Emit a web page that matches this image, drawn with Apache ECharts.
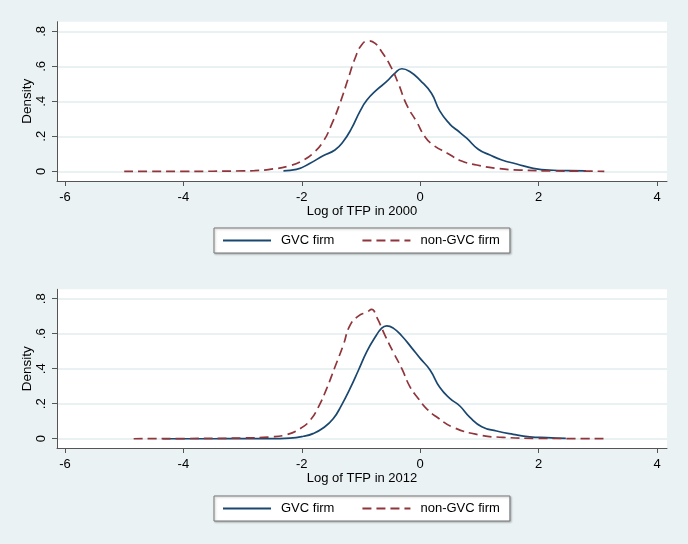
<!DOCTYPE html>
<html>
<head>
<meta charset="utf-8">
<script src="https://cdn.jsdelivr.net/npm/echarts@6/dist/echarts.min.js"></script>
<style>
html,body{margin:0;padding:0;background:#eaf2f3;}
#chart{width:688px;height:544px;}
</style>
</head>
<body>
<div id="chart"></div>
<script>
// ---- data ----
const seriesNames = ['GVC firm', 'non-GVC firm'];
const xTicks = [-6, -4, -2, 0, 2, 4];
const yTicks = [0, 0.2, 0.4, 0.6, 0.8];
const xTitles = ['Log of TFP in 2000', 'Log of TFP in 2012'];

// 2000 panel
const gvc2000X = [-2.31,-2.09,-1.86,-1.64,-1.44,-1.30,-1.16,-1.02,-0.90,-0.735,-0.57,-0.43,-0.31,-0.17,0.0,0.19,0.33,0.5,0.62,0.785,0.98,1.18,1.38,1.63,1.91,2.25,2.5,2.8];
const gvc2000Y = [0.003,0.011,0.046,0.089,0.122,0.17,0.245,0.341,0.407,0.465,0.512,0.56,0.586,0.569,0.52,0.446,0.345,0.27,0.236,0.189,0.126,0.093,0.065,0.042,0.017,0.006,0.004,0.002];
const non2000X = [-5.0,-4.0,-3.0,-2.8,-2.54,-2.20,-1.97,-1.81,-1.64,-1.50,-1.355,-1.215,-1.10,-0.99,-0.877,-0.76,-0.65,-0.51,-0.37,-0.228,-0.06,0.08,0.22,0.45,0.70,0.955,1.29,1.69,2.25,2.7,3.11];
const non2000Y = [0.0,0.0,0.002,0.004,0.011,0.032,0.065,0.103,0.17,0.265,0.389,0.531,0.646,0.722,0.746,0.731,0.683,0.607,0.503,0.379,0.283,0.198,0.15,0.105,0.059,0.036,0.017,0.007,0.002,0.001,0.0];

// 2012 panel
const gvc2012X = [-4.35,-3.5,-3.0,-2.54,-2.2,-1.97,-1.81,-1.64,-1.47,-1.33,-1.186,-1.045,-0.90,-0.76,-0.65,-0.566,-0.455,-0.31,-0.14,0.0,0.166,0.33,0.50,0.67,0.84,1.04,1.29,1.57,1.85,2.14,2.46];
const gvc2012Y = [0.0,0.0,0.001,0.001,0.004,0.014,0.029,0.061,0.114,0.191,0.286,0.39,0.499,0.581,0.632,0.645,0.632,0.587,0.518,0.459,0.393,0.294,0.231,0.187,0.122,0.069,0.044,0.025,0.011,0.006,0.002];
const non2012X = [-4.84,-4.0,-3.0,-2.54,-2.26,-2.03,-1.86,-1.72,-1.58,-1.44,-1.30,-1.186,-1.045,-0.90,-0.82,-0.735,-0.595,-0.455,-0.31,-0.17,-0.03,0.11,0.28,0.56,1.01,1.40,1.97,2.5,3.11];
const non2012Y = [0.0,0.001,0.004,0.01,0.023,0.057,0.105,0.181,0.286,0.41,0.534,0.648,0.701,0.724,0.739,0.695,0.591,0.495,0.40,0.295,0.229,0.171,0.124,0.065,0.021,0.008,0.002,0.001,0.0];

// ---- styling ----
const FONT = '"Liberation Sans", Arial, sans-serif';
const NAVY = '#1a476f';
const MAROON = '#90353b';
const AXIS = '#555';
const GRIDLINE = '#e3ecef';

function zip(xs, ys) { return xs.map((x, i) => [x, ys[i]]); }

const grids = [
  { left: 57, right: 21, top: 21.7, height: 159.3 },
  { left: 57, right: 21, top: 289.3, height: 158.7 }
];
const yRanges = [[-0.0554, 0.855], [-0.053, 0.854]];
const legendTops = [228, 496];

const option = {
  backgroundColor: '#eaf2f3',
  animation: false,
  textStyle: { fontFamily: FONT },
  grid: grids.map(g => Object.assign({ show: true, backgroundColor: '#ffffff', borderWidth: 0 }, g)),
  xAxis: [0, 1].map(i => ({
    type: 'value', gridIndex: i, min: -6.135, max: 4.169,
    name: xTitles[i], nameLocation: 'middle', nameGap: 24, nameMoveOverlap: false,
    nameTextStyle: { fontFamily: FONT, fontSize: 13, color: '#000' },
    axisLine: { show: true, onZero: false, lineStyle: { color: AXIS, width: 1 } },
    axisTick: { show: true, length: 5, customValues: xTicks, lineStyle: { color: AXIS } },
    axisLabel: { customValues: xTicks, margin: 10, fontFamily: FONT, fontSize: 13, color: '#000' },
    splitLine: { show: false }
  })),
  yAxis: [0, 1].map(i => ({
    type: 'value', gridIndex: i, min: yRanges[i][0], max: yRanges[i][1],
    name: 'Density', nameLocation: 'middle', nameGap: 23, nameMoveOverlap: false,
    nameTextStyle: { fontFamily: FONT, fontSize: 13.5, color: '#000' },
    axisLine: { show: true, onZero: false, lineStyle: { color: AXIS, width: 1 } },
    axisTick: { show: true, length: 5, customValues: yTicks, lineStyle: { color: AXIS } },
    axisLabel: {
      customValues: yTicks, rotate: 90, margin: 9, fontFamily: FONT, fontSize: 13, color: '#000',
      formatter: v => v === 0 ? '0' : String(+v.toFixed(1)).replace(/^0/, '')
    },
    splitLine: { show: true, lineStyle: { color: GRIDLINE, width: 1.5 } }
  })),
  legend: [0, 1].map(i => ({
    data: seriesNames,
    left: 214, top: legendTops[i],
    orient: 'horizontal',
    backgroundColor: '#ffffff', borderColor: '#777', borderWidth: 1,
    shadowColor: 'rgba(0,0,0,0.25)', shadowBlur: 2, shadowOffsetX: 1, shadowOffsetY: 1,
    padding: [6, 10, 6, 8],
    itemGap: 27, itemWidth: 48, itemHeight: 14,
    selectedMode: false,
    itemStyle: { opacity: 0 },
    textStyle: { fontFamily: FONT, fontSize: 13, color: '#000', padding: [0, 0, 0, 5] }
  })),
  series: [
    { name: seriesNames[0], type: 'line', xAxisIndex: 0, yAxisIndex: 0, data: zip(gvc2000X, gvc2000Y) },
    { name: seriesNames[1], type: 'line', xAxisIndex: 0, yAxisIndex: 0, data: zip(non2000X, non2000Y) },
    { name: seriesNames[0], type: 'line', xAxisIndex: 1, yAxisIndex: 1, data: zip(gvc2012X, gvc2012Y) },
    { name: seriesNames[1], type: 'line', xAxisIndex: 1, yAxisIndex: 1, data: zip(non2012X, non2012Y) }
  ].map(s => Object.assign(s, {
    showSymbol: false, symbol: 'none', smooth: 0.5,
    lineStyle: s.name === seriesNames[0]
      ? { color: NAVY, width: 1.7, type: 'solid' }
      : { color: MAROON, width: 1.7, type: [9, 5] },
    itemStyle: { color: s.name === seriesNames[0] ? NAVY : MAROON }
  }))
};

const chart = echarts.init(document.getElementById('chart'), null, { renderer: 'canvas' });
chart.setOption(option);
</script>
</body>
</html>
